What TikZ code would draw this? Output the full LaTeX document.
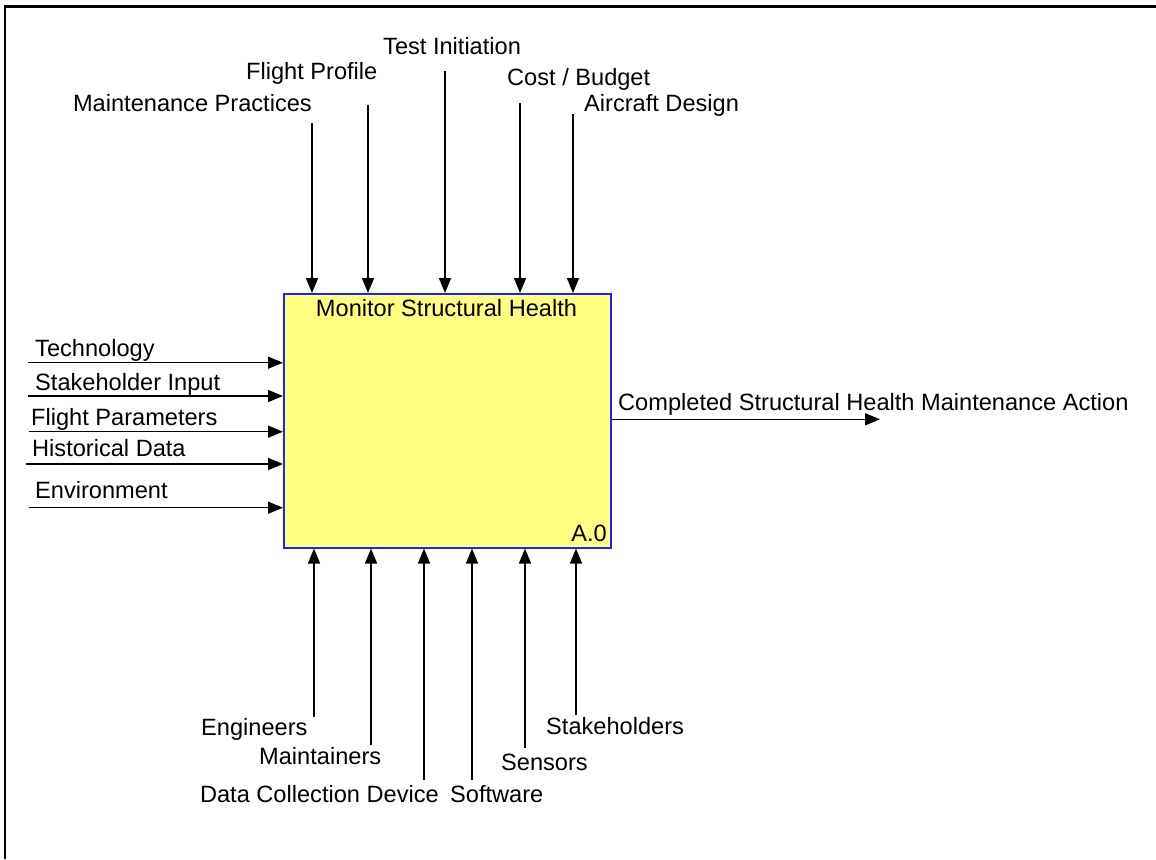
\documentclass[tikz,border=0pt]{standalone}
\usepackage{fontspec}
\setmainfont{Liberation Sans}
\usetikzlibrary{arrows.meta}
\definecolor{boxfill}{HTML}{FFFF80}
\definecolor{boxline}{HTML}{2020FF}
\begin{document}
\begin{tikzpicture}[x=1pt,y=-1pt,
  lbl/.style={inner sep=0pt, font=\fontsize{23.6}{27}\selectfont},
  arr/.style={line width=1.5pt, -{Triangle[length=15pt,width=12pt]}}]
\useasboundingbox (0,0) rectangle (1156,859);
\draw[line width=2.5pt] (5,859) -- (5,6.5) -- (1156,6.5);
% activity box
\node[draw=boxline, fill=boxfill, line width=1.5pt, minimum width=327pt,
      minimum height=254pt, inner sep=0pt, anchor=north west] (a0) at (283,293) {};
\node[lbl, anchor=base] (title) at (446.5,316) {Monitor Structural Health};
\node[lbl, anchor=base east] (num) at (607,541.7) {A.0};
% controls (top)
\coordinate (tMP) at (312,123);
\coordinate (tFP) at (368,105);
\coordinate (tTI) at (445,71);
\coordinate (tCB) at (520,103);
\coordinate (tAD) at (573,114);
\node[lbl, anchor=base east] (lMP) at (312,111.7) {Maintenance Practices};
\node[lbl, anchor=base west] (lFP) at (246,80) {Flight Profile};
\node[lbl, anchor=base west] (lTI) at (383,55) {Test Initiation};
\node[lbl, anchor=base west] (lCB) at (507,85) {Cost / Budget};
\node[lbl, anchor=base west] (lAD) at (584,111.7) {Aircraft Design};
\foreach \c in {tMP,tFP,tTI,tCB,tAD} \draw[arr] (\c) -- (\c |- a0.north);
% inputs (left)
\coordinate (iT) at (28,362.7);
\coordinate (iS) at (28,396);
\coordinate (iF) at (29,431.7);
\coordinate (iH) at (26,464);
\coordinate (iE) at (29,507.7);
\node[lbl, anchor=base west] (lT) at (35,356) {Technology};
\node[lbl, anchor=base west] (lS) at (35,390) {Stakeholder Input};
\node[lbl, anchor=base west] (lF) at (31,425.7) {Flight Parameters};
\node[lbl, anchor=base west] (lH) at (32,456.7) {Historical Data};
\node[lbl, anchor=base west] (lE) at (35,498.3) {Environment};
\foreach \c in {iT,iS,iF,iH,iE} \draw[arr] (\c) -- (\c -| a0.west);
% output (right)
\coordinate (oC) at (880,419.3);
\node[lbl, anchor=base west] (lC) at (618,410.7) {Completed Structural Health Maintenance Action};
\draw[arr] (a0.east |- oC) -- (oC);
% mechanisms (bottom)
\coordinate (bE) at (314,717);
\coordinate (bM) at (371,745);
\coordinate (bD) at (424,780);
\coordinate (bS) at (472,780);
\coordinate (bSe) at (525,748);
\coordinate (bSt) at (576,715);
\node[lbl, anchor=base west] (lEn) at (201,735) {Engineers};
\node[lbl, anchor=base west] (lMa) at (259,764) {Maintainers};
\node[lbl, anchor=base east] (lDC) at (439,802.7) {Data Collection Device};
\node[lbl, anchor=base west] (lSo) at (450,802.7) {Software};
\node[lbl, anchor=base west] (lSe) at (501,770) {Sensors};
\node[lbl, anchor=base west] (lSt) at (546,734) {Stakeholders};
\foreach \c in {bE,bM,bD,bS,bSe,bSt} \draw[arr] (\c) -- (\c |- a0.south);
\end{tikzpicture}
\end{document}
